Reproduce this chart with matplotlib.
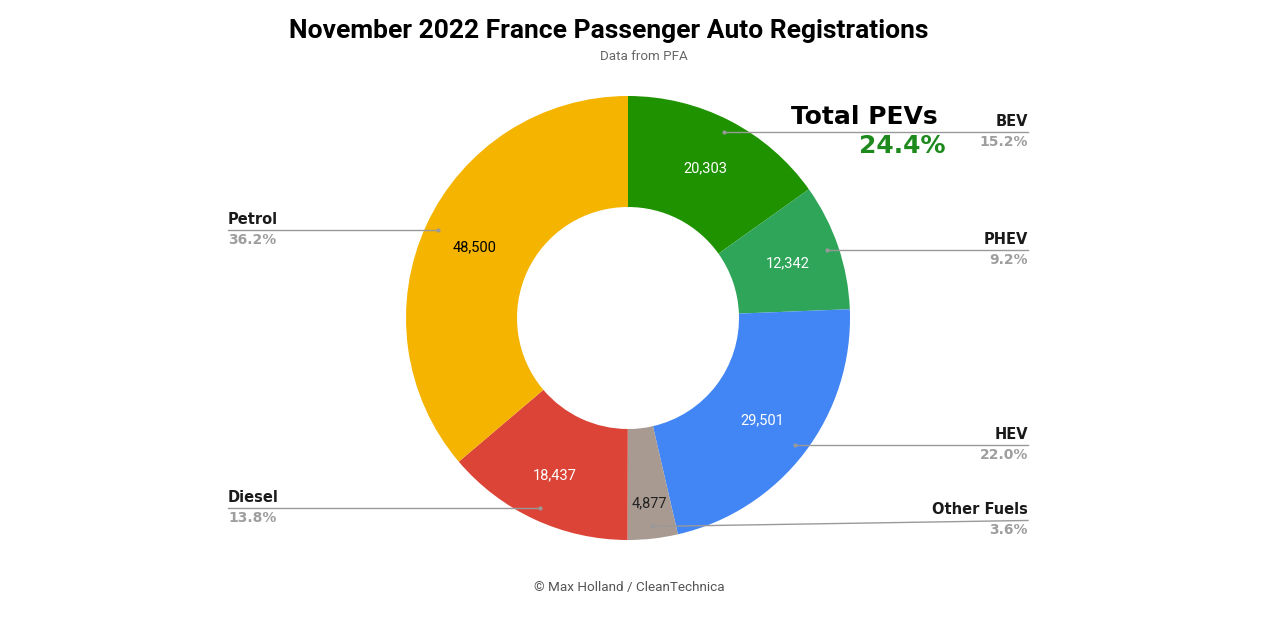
import numpy as np
import matplotlib.pyplot as plt

# dane
kategorie = ["BEV", "PHEV", "HEV", "Other Fuels", "Diesel", "Petrol"]
wartosci = [20303, 12342, 29501, 4877, 18437, 48500]
kolory = ["#1f9200", "#2fa55a", "#4285f4", "#a89a91", "#db4437", "#f4b400"]
kolory_etykiet = ["white", "white", "white", "#222222", "white", "black"]
procenty = ["15.2%", "9.2%", "22.0%", "3.6%", "13.8%", "36.2%"]
pev_suma = "24.4%"

# odleglosc etykiety wartosci od srodka (czesc promienia)
odl_etykiet = [0.76, 0.76, 0.76, 0.84, 0.78, 0.76]

W, H = 1280, 627
fig = plt.figure(figsize=(W / 100, H / 100), dpi=100)
ax = fig.add_axes([0, 0, 1, 1])

cx, cy = 628, H - 318
R = 222

wedges, _ = ax.pie(wartosci, colors=kolory, startangle=90, counterclock=False,
                   center=(cx, cy), radius=R,
                   wedgeprops=dict(width=R * 0.5, edgecolor="none"))

ax.set_xlim(0, W)
ax.set_ylim(0, H)
ax.set_aspect("equal")
ax.axis("off")

for i, w in enumerate(wedges):
    kat = np.deg2rad((w.theta1 + w.theta2) / 2)
    # etykieta wartosci w srodku klina
    rx = cx + odl_etykiet[i] * R * np.cos(kat)
    ry = cy + odl_etykiet[i] * R * np.sin(kat)
    ax.text(rx, ry, f"{wartosci[i]:,}", ha="center", va="center",
            fontsize=10.5, family="Roboto", color=kolory_etykiet[i])
    # linia odniesienia
    px = cx + 0.945 * R * np.cos(kat)
    py = cy + 0.945 * R * np.sin(kat)
    ax.plot([px], [py], "o", color="#999999", markersize=2)
    if np.cos(kat) > 0:
        x_kon = 1028
        ha = "right"
    else:
        x_kon = 228
        ha = "left"
    y_kon = py
    if kategorie[i] == "Other Fuels":
        y_kon = py + 6
    ax.plot([px, x_kon], [py, y_kon], color="#999999", lw=1)
    ax.text(x_kon, y_kon + 3, kategorie[i], ha=ha, va="bottom",
            fontsize=10.5, fontweight="bold", family="DejaVu Sans", color="#1a1a1a")
    ax.text(x_kon, y_kon - 3, procenty[i], ha=ha, va="top",
            fontsize=10, fontweight="bold", family="DejaVu Sans", color="#9e9e9e")

# tytul i podpisy
fig.text(609 / W, 1 - 31 / H, "November 2022 France Passenger Auto Registrations",
         ha="center", va="center", fontsize=19, fontweight="bold", family="Roboto")
fig.text(644 / W, 1 - 56 / H, "Data from PFA", ha="center", va="center",
         fontsize=9.6, family="Roboto", color="#666666")
fig.text(629 / W, 1 - 588 / H, "\u00a9 Max Holland / CleanTechnica", ha="center", va="center",
         fontsize=9.7, family="Roboto", color="#555555")

fig.text(864 / W, 1 - 117 / H, "Total PEVs", ha="center", va="center",
         fontsize=18, fontweight="bold", family="DejaVu Sans", color="black")
fig.text(902 / W, 1 - 146 / H, pev_suma, ha="center", va="center",
         fontsize=18, fontweight="bold", family="DejaVu Sans", color="#1e8a1e")

fig.savefig("out.png", dpi=100, facecolor="white")
